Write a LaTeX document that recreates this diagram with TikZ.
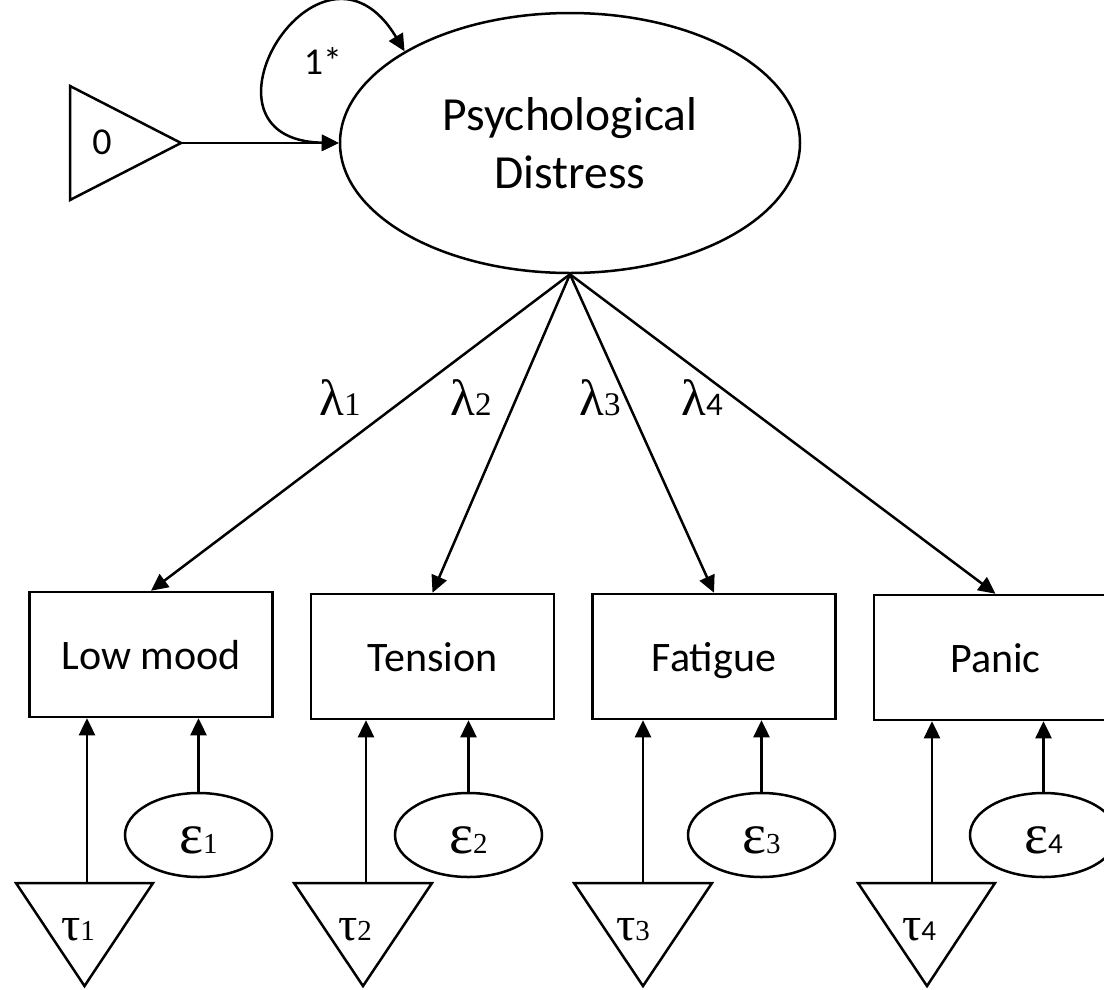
\documentclass[tikz,border=0pt]{standalone}
\usepackage{fontspec}
\setmainfont{Carlito}
\newfontfamily\grk{Liberation Serif}
\newfontfamily\cali{Carlito}
\usetikzlibrary{arrows.meta,shapes.geometric}
\newcommand{\lamlab}[1]{{\grk\fontsize{51}{51}\selectfont λ\fontsize{33}{33}\selectfont #1}}
\newcommand{\taulab}[1]{{\grk\fontsize{48}{48}\selectfont τ\fontsize{29}{29}\selectfont #1}}
\newcommand{\epslab}[1]{{\grk\fontsize{57}{57}\selectfont ε\fontsize{29}{29}\selectfont #1}}

\begin{document}
\begin{tikzpicture}[%
      x=1pt, y=-1pt,
      line width=2.5pt,
      >={Triangle[length=17pt,width=16pt]},
      latent/.style={draw, ellipse, inner sep=0pt},
      item/.style={draw, rectangle, minimum width=243pt, minimum height=125pt,
                   inner sep=0pt, text height=30pt, text depth=0pt,
                   font=\fontsize{42}{48}\selectfont},
      lbl/.style={inner sep=0pt, anchor=base},
      ]
      \useasboundingbox (0,0) rectangle (1104,989);
      \clip (0,0) rectangle (1104,989);

      % factor
      \node [latent, minimum width=460pt, minimum height=260pt, align=center,
             font=\fontsize{47.5}{58}\selectfont] (distress) at (570,143) {Psychological\\Distress};

      % factor mean
      \draw (70,86) -- (181,143) -- (70,200) -- cycle;
      \coordinate (zerotip) at (181,143);
      \node [lbl, font=\fontsize{38}{38}\selectfont] (zero) at (102,154) {0};
      \draw [->] (zerotip) -- (distress.west);

      % factor variance
      \draw [<->] (distress.west) .. controls (180,140) and (320,-90) .. (distress.151);
      \node [lbl, font=\fontsize{38}{38}\selectfont] (var) at (323,74) {1*};

      % indicators
      \node [item] (lowmood) at (151,654.5) {Low mood};
      \node [item] (tension) at (432.5,656.5) {Tension};
      \node [item] (fatigue) at (714,656.5) {Fatigue};
      \node [item] (panic) at (995.5,657.5) {Panic};

      % loadings
      \draw [->] (distress.south) -- (lowmood.north);
      \draw [->] (distress.south) -- (tension.north);
      \draw [->] (distress.south) -- (fatigue.north);
      \draw [->] (distress.south) -- (panic.north);

      \node [lbl] (lam1) at (340,415) {\lamlab{1}};
      \node [lbl] (lam2) at (471,415) {\lamlab{2}};
      \node [lbl] (lam3) at (600,415) {\lamlab{3}};
      \node [lbl] (lam4) at (702,415) {\lamlab{\cali 4}};

      % intercepts
      \draw (16,883) -- (153,883) -- (84.5,986) -- cycle;
      \draw (294,883) -- (432,883) -- (363,986) -- cycle;
      \draw (574,883) -- (712,883) -- (643,986) -- cycle;
      \draw (858,883) -- (995,883) -- (927,986) -- cycle;

      \coordinate (t1) at (87,883);
      \coordinate (t2) at (366,883);
      \coordinate (t3) at (643,883);
      \coordinate (t4) at (932,883);

      \node [lbl] (tau1) at (78,940) {\taulab{1}};
      \node [lbl] (tau2) at (355,940) {\taulab{2}};
      \node [lbl] (tau3) at (633,940) {\taulab{3}};
      \node [lbl] (tau4) at (919,940) {\taulab{\cali 4}};

      \draw [->] (t1) -- (t1 |- lowmood.south);
      \draw [->] (t2) -- (t2 |- tension.south);
      \draw [->] (t3) -- (t3 |- fatigue.south);
      \draw [->] (t4) -- (t4 |- panic.south);

      % residuals
      \node [latent, minimum width=147pt, minimum height=84pt, text height=37pt, text depth=0pt] (eps1) at (198.5,835) {\epslab{1}};
      \node [latent, minimum width=147pt, minimum height=84pt, text height=37pt, text depth=0pt] (eps2) at (468.5,835) {\epslab{2}};
      \node [latent, minimum width=147pt, minimum height=84pt, text height=37pt, text depth=0pt] (eps3) at (761.5,835) {\epslab{3}};
      \node [latent, minimum width=147pt, minimum height=84pt, text height=37pt, text depth=0pt] (eps4) at (1043.5,835) {\epslab{\cali 4}};

      \draw [->] (eps1.north) -- (eps1.north |- lowmood.south);
      \draw [->] (eps2.north) -- (eps2.north |- tension.south);
      \draw [->] (eps3.north) -- (eps3.north |- fatigue.south);
      \draw [->] (eps4.north) -- (eps4.north |- panic.south);
\end{tikzpicture}
\end{document}
